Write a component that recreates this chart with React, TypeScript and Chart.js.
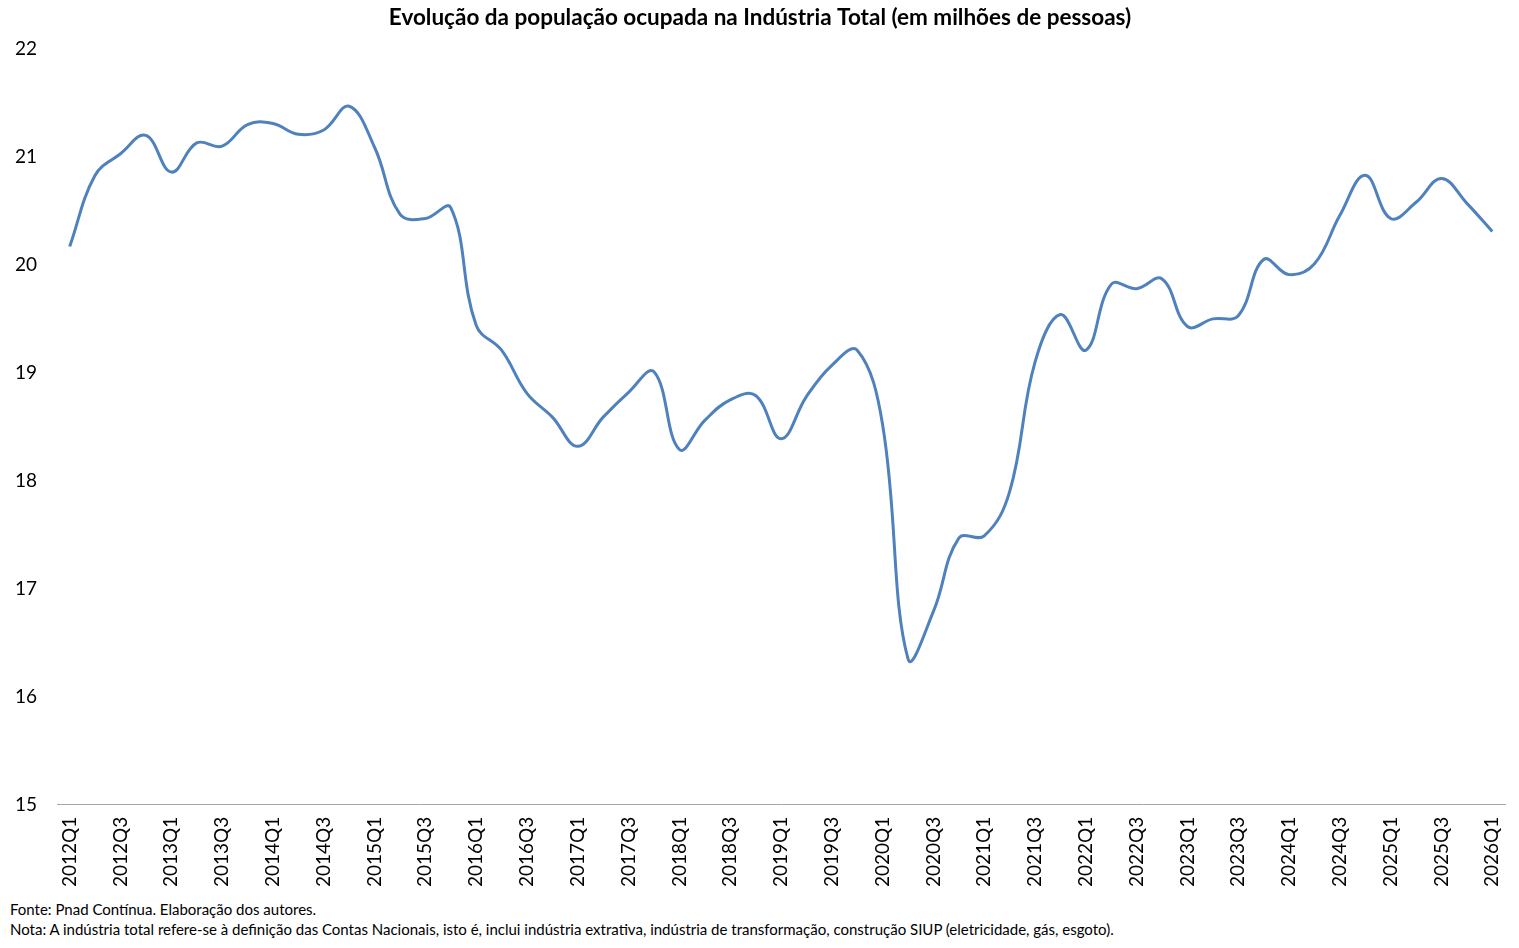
import React, { useRef, useEffect } from "react";
import { Chart, registerables } from "chart.js";

Chart.register(...registerables);

const quarters: string[] = [];
for (let y = 2012; y <= 2026; y++) {
  for (let q = 1; q <= 4; q++) {
    if (y === 2026 && q > 1) break;
    quarters.push(`${y}Q${q}`);
  }
}

// população ocupada, milhões de pessoas
const ocupados: number[] = [
  20.17, 20.83, 21.03, 21.2, 20.86, 21.13, 21.1, 21.3,
  21.31, 21.21, 21.25, 21.47, 21.09, 20.47, 20.43, 20.53,
  19.44, 19.21, 18.81, 18.59, 18.32, 18.59, 18.82, 19.01,
  18.29, 18.56, 18.75, 18.79, 18.39, 18.78, 19.07, 19.21,
  18.52, 16.35, 16.79, 17.47, 17.49, 17.9, 19.1, 19.54,
  19.21, 19.82, 19.78, 19.87, 19.43, 19.5, 19.53, 20.05,
  19.91, 20.01, 20.46, 20.83, 20.43, 20.58, 20.8, 20.57,
  20.31,
];

const titulo =
  "Evolução da população ocupada na Indústria Total (em milhões de pessoas)";
const fonte = "Fonte: Pnad Contínua. Elaboração dos autores.";
const nota =
  "Nota: A indústria total refere-se à definição das Contas Nacionais, isto é, inclui indústria extrativa, indústria de transformação, construção SIUP (eletricidade, gás, esgoto).";

const FONT = "Lato, 'Open Sans', sans-serif";

const App: React.FC = () => {
  const canvasRef = useRef<HTMLCanvasElement>(null);

  useEffect(() => {
    document.body.style.margin = "0";
    if (!canvasRef.current) return;
    const chart = new Chart(canvasRef.current, {
      type: "line",
      data: {
        labels: quarters,
        datasets: [
          {
            label: "Indústria Total",
            data: ocupados,
            borderColor: "#4f81bd",
            borderWidth: 3,
            pointRadius: 0,
            tension: 0.4,
            fill: false,
          },
        ],
      },
      options: {
        animation: false,
        responsive: true,
        maintainAspectRatio: false,
        layout: { padding: { left: 15, right: 14, top: 0, bottom: 0 } },
        plugins: {
          legend: { display: false },
          tooltip: { enabled: false },
          title: {
            display: true,
            text: titulo,
            color: "#000",
            font: { family: FONT, size: 22.5, weight: "bold" },
            padding: { top: 4, bottom: 18 },
          },
        },
        scales: {
          x: {
            offset: true,
            grid: { display: false, drawTicks: false },
            border: { display: true, color: "#a6a6a6", width: 1 },
            afterFit: (s: any) => {
              s.paddingLeft = 0;
              s.paddingRight = 0;
            },
            ticks: {
              autoSkip: false,
              maxRotation: 90,
              minRotation: 90,
              padding: 12,
              color: "#000",
              font: { family: FONT, size: 19 },
              callback: (_v, i) => (i % 2 === 0 ? quarters[i] : ""),
            },
          },
          y: {
            min: 15,
            max: 22,
            grid: { display: false, drawTicks: false },
            border: { display: false },
            afterFit: (s: any) => {
              s.width = 42;
            },
            ticks: {
              stepSize: 1,
              padding: 20,
              color: "#000",
              font: { family: FONT, size: 19 },
            },
          },
        },
      },
    });
    return () => chart.destroy();
  }, []);

  return (
    <div style={{ position: "relative", width: 1519, height: 948, fontFamily: FONT }}>
      <div style={{ position: "absolute", left: 0, top: 0, width: 1519, height: 899 }}>
        <canvas ref={canvasRef} />
      </div>
      <div style={{ position: "absolute", left: 10, top: 900, fontSize: 15, color: "#000" }}>
        {fonte}
      </div>
      <div style={{ position: "absolute", left: 10, top: 920, fontSize: 15, color: "#000" }}>
        {nota}
      </div>
    </div>
  );
};

export default App;
